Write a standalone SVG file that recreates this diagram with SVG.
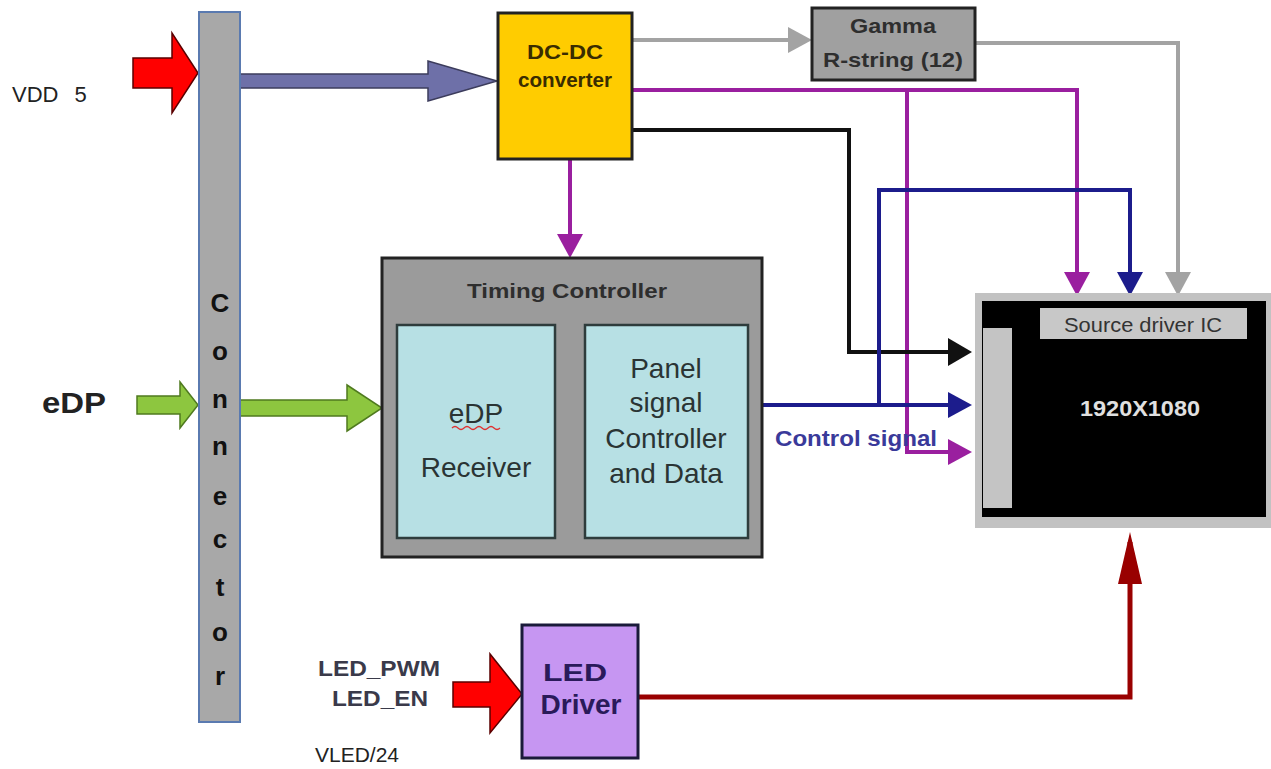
<svg xmlns="http://www.w3.org/2000/svg" width="1271" height="769" viewBox="0 0 1271 769">
<style>
text{font-family:"Liberation Sans",Arial,sans-serif;}
.b{font-weight:bold;}
.ln{fill:none;stroke-width:4;}
.blk{stroke-width:1.5;stroke-linejoin:miter;}
</style>
<defs>
<marker id="hPurple" markerUnits="userSpaceOnUse" markerWidth="24" markerHeight="26" viewBox="0 0 24 26" refX="14" refY="13" orient="auto"><path d="M0,0 L24,13 L0,26 z" fill="#9a1f9f"/></marker>
<marker id="hBlue" markerUnits="userSpaceOnUse" markerWidth="24" markerHeight="26" viewBox="0 0 24 26" refX="14" refY="13" orient="auto"><path d="M0,0 L24,13 L0,26 z" fill="#1c1c8c"/></marker>
<marker id="hBlack" markerUnits="userSpaceOnUse" markerWidth="24" markerHeight="28" viewBox="0 0 24 28" refX="14" refY="14" orient="auto"><path d="M0,0 L24,14 L0,28 z" fill="#111"/></marker>
<marker id="hGray" markerUnits="userSpaceOnUse" markerWidth="24" markerHeight="26" viewBox="0 0 24 26" refX="14" refY="13" orient="auto"><path d="M0,0 L24,13 L0,26 z" fill="#a3a3a3"/></marker>
<marker id="hRed" markerUnits="userSpaceOnUse" markerWidth="52" markerHeight="24" viewBox="0 0 52 24" refX="42" refY="12" orient="auto"><path d="M0,0 L52,12 L0,24 z" fill="#990000"/></marker>
</defs>
<rect width="1271" height="769" fill="#fff"/>

<g id="connectors">
<polygon class="blk" points="133,58 172,58 172,33 198,73 172,113 172,88 133,88" fill="#ff0000" stroke="#5a0000"/>
<polygon class="blk" points="240,74 428,74 428,61 497,81 428,101 428,88 240,88" fill="#6e70a8" stroke="#3c3c5c"/>
<polygon class="blk" points="137,396 180,396 180,382 198,405 180,428 180,414 137,414" fill="#8dc63f" stroke="#4f7a1f"/>
<polygon class="blk" points="240,400 347,400 347,385 382,408 347,431 347,416 240,416" fill="#8dc63f" stroke="#4f7a1f"/>
<polygon class="blk" points="453,682 490,682 490,654 522,694 490,733 490,707 453,707" fill="#ff0000" stroke="#5a0000"/>

<path class="ln" d="M633,40 H802" stroke="#a3a3a3" marker-end="url(#hGray)"/>
<path class="ln" d="M975,43 H1178 V286" stroke="#a3a3a3" marker-end="url(#hGray)"/>
<path class="ln" d="M633,90 H1077 V286" stroke="#9a1f9f" marker-end="url(#hPurple)"/>
<path class="ln" d="M907,90 V452 H962" stroke="#9a1f9f" marker-end="url(#hPurple)"/>
<path class="ln" d="M570,159 V248" stroke="#9a1f9f" marker-end="url(#hPurple)"/>
<path class="ln" d="M633,130 H849 V352 H962" stroke="#111" marker-end="url(#hBlack)"/>
<path class="ln" d="M762,405 H962" stroke="#1c1c8c" marker-end="url(#hBlue)"/>
<path class="ln" d="M879,405 V190 H1130 V286" stroke="#1c1c8c" marker-end="url(#hBlue)"/>
<path d="M638,697 H1130 V542" fill="none" stroke="#990000" stroke-width="5" marker-end="url(#hRed)"/>
</g>

<g id="connector-bar">
<rect x="199" y="12" width="41" height="710" fill="#a8a8a8" stroke="#5a7ab0" stroke-width="2"/>
<g class="b" font-size="26" fill="#111" text-anchor="middle">
<text x="220" y="312">C</text>
<text x="220" y="360">o</text>
<text x="220" y="408">n</text>
<text x="220" y="455">n</text>
<text x="220" y="505">e</text>
<text x="220" y="548">c</text>
<text x="220" y="596">t</text>
<text x="220" y="641">o</text>
<text x="220" y="685">r</text>
</g>
</g>

<g id="vdd-label"><text x="12" y="102" font-size="22" fill="#222" word-spacing="10">VDD 5</text></g>
<g id="edp-label"><text x="42" y="413" font-size="29" class="b" fill="#222" textLength="64" lengthAdjust="spacingAndGlyphs">eDP</text></g>

<g id="dcdc">
<rect x="498" y="13" width="134" height="146" fill="#ffcc00" stroke="#222" stroke-width="3"/>
<text x="565" y="59" font-size="21" class="b" fill="#3a2c00" text-anchor="middle" textLength="76" lengthAdjust="spacingAndGlyphs">DC-DC</text>
<text x="565" y="87" font-size="21" class="b" fill="#3a2c00" text-anchor="middle" textLength="94" lengthAdjust="spacingAndGlyphs">converter</text>
</g>

<g id="gamma">
<rect x="812" y="8" width="163" height="72" fill="#a0a0a0" stroke="#222" stroke-width="3"/>
<text x="893" y="33" font-size="21" class="b" fill="#2e2e2e" text-anchor="middle" textLength="86" lengthAdjust="spacingAndGlyphs">Gamma</text>
<text x="893" y="67" font-size="21" class="b" fill="#2e2e2e" text-anchor="middle" textLength="140" lengthAdjust="spacingAndGlyphs">R-string (12)</text>
</g>

<g id="timing-controller">
<rect x="382" y="258" width="380" height="299" fill="#9b9b9b" stroke="#222" stroke-width="3"/>
<text x="567" y="298" font-size="21" class="b" fill="#2e2e2e" text-anchor="middle" textLength="200" lengthAdjust="spacingAndGlyphs">Timing Controller</text>
</g>

<g id="edp-receiver">
<rect x="397" y="325" width="158" height="213" fill="#b7e0e4" stroke="#2e3c3c" stroke-width="2.5"/>
<text x="476" y="423" font-size="28" fill="#2a3434" text-anchor="middle">eDP</text>
<path d="M452,428 q3,-3 6,0 t6,0 t6,0 t6,0 t6,0 t6,0 t6,0 t6,0" fill="none" stroke="#e03030" stroke-width="1.2"/>
<text x="476" y="477" font-size="28" fill="#2a3434" text-anchor="middle">Receiver</text>
</g>

<g id="panel-signal">
<rect x="585" y="325" width="163" height="213" fill="#b7e0e4" stroke="#2e3c3c" stroke-width="2.5"/>
<g font-size="28" fill="#2a3434" text-anchor="middle">
<text x="666" y="378">Panel</text>
<text x="666" y="412">signal</text>
<text x="666" y="448">Controller</text>
<text x="666" y="483">and Data</text>
</g>
</g>

<g id="control-signal-label"><text x="775" y="446" font-size="22" class="b" fill="#3a3a9a" textLength="162" lengthAdjust="spacingAndGlyphs">Control signal</text></g>

<g id="panel">
<rect x="975" y="293" width="296" height="235" fill="#c2c2c2"/>
<rect x="982" y="301" width="284" height="216" fill="#000"/>
<rect x="983" y="328" width="29" height="180" fill="#c4c4c4"/>
<rect x="1040" y="308" width="207" height="31" fill="#c8c8c8"/>
<text x="1143" y="332" font-size="21" fill="#333" text-anchor="middle" textLength="158" lengthAdjust="spacingAndGlyphs">Source driver IC</text>
<text x="1140" y="416" font-size="22" class="b" fill="#e0e0e0" text-anchor="middle" textLength="120" lengthAdjust="spacingAndGlyphs">1920X1080</text>
</g>

<g id="led-driver">
<rect x="522" y="625" width="116" height="133" fill="#c696f2" stroke="#1a1a3a" stroke-width="3"/>
<text x="575" y="681" font-size="23" class="b" fill="#2a1a5a" text-anchor="middle" textLength="64" lengthAdjust="spacingAndGlyphs">LED</text>
<text x="581" y="714" font-size="28" class="b" fill="#2a1a5a" text-anchor="middle">Driver</text>
</g>

<g id="led-labels">
<text x="379" y="676" font-size="22" class="b" fill="#3a3a4a" text-anchor="middle" textLength="122" lengthAdjust="spacingAndGlyphs">LED_PWM</text>
<text x="380" y="706" font-size="22" class="b" fill="#3a3a4a" text-anchor="middle" textLength="96" lengthAdjust="spacingAndGlyphs">LED_EN</text>
<text x="315" y="762" font-size="21" fill="#222">VLED/24</text>
</g>
</svg>
